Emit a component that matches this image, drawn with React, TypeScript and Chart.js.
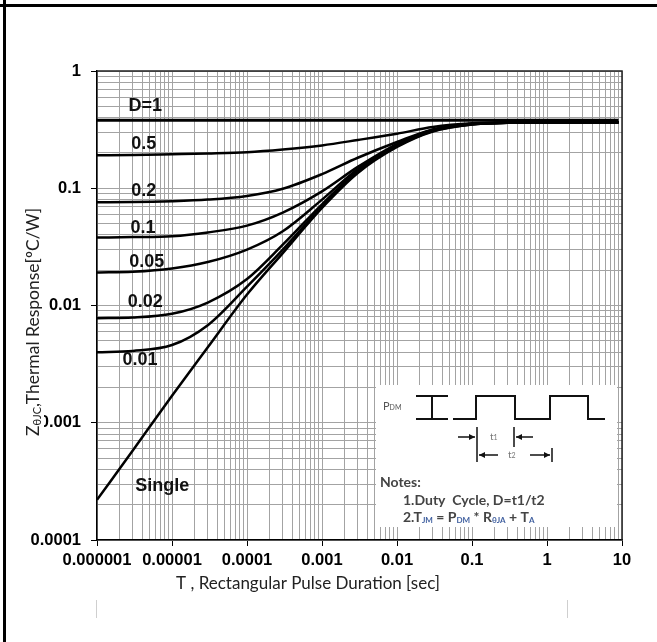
import React, { useEffect, useRef } from 'react';
import { Chart, registerables } from 'chart.js';
Chart.register(...registerables);

// ---- data ----
const pulseTimes = [1e-6, 3e-6, 1e-5, 3e-5, 1e-4, 3e-4, 1e-3, 3e-3, 1e-2, 3e-2, 1e-1, 3e-1, 1, 9];
const seriesNames = ['D=1', '0.5', '0.2', '0.1', '0.05', '0.02', '0.01', 'Single'];
const zD1 = [0.38, 0.38, 0.38, 0.38, 0.38, 0.38, 0.38, 0.38, 0.38, 0.38, 0.38, 0.38, 0.38, 0.38];
const zD05 = [0.191, 0.192, 0.195, 0.198, 0.203, 0.214, 0.232, 0.258, 0.292, 0.333, 0.358, 0.364, 0.366, 0.366];
const zD02 = [0.076, 0.0762, 0.0775, 0.080, 0.086, 0.099, 0.132, 0.182, 0.248, 0.318, 0.355, 0.363, 0.365, 0.365];
const zD01 = [0.038, 0.0383, 0.039, 0.042, 0.048, 0.062, 0.094, 0.152, 0.238, 0.315, 0.354, 0.363, 0.365, 0.365];
const zD005 = [0.0191, 0.0194, 0.0207, 0.0235, 0.030, 0.043, 0.080, 0.146, 0.235, 0.313, 0.353, 0.362, 0.365, 0.365];
const zD002 = [0.0078, 0.0079, 0.0085, 0.0106, 0.0168, 0.033, 0.073, 0.141, 0.232, 0.311, 0.352, 0.362, 0.365, 0.365];
const zD001 = [0.0040, 0.0041, 0.0046, 0.0068, 0.0145, 0.030, 0.070, 0.138, 0.228, 0.308, 0.351, 0.362, 0.365, 0.365];
const zSingle = [0.00022, 0.00058, 0.0017, 0.0044, 0.0124, 0.028, 0.068, 0.135, 0.225, 0.305, 0.35, 0.362, 0.365, 0.365];
const allSeries = [zD1, zD05, zD02, zD01, zD005, zD002, zD001, zSingle];
// label anchors in data space (t, Z)
const labelT = [4.4e-6, 4.2e-6, 4.2e-6, 4.1e-6, 4.6e-6, 4.4e-6, 3.75e-6, 7.4e-6];
const labelZ = [0.50, 0.238, 0.094, 0.0455, 0.0233, 0.0108, 0.00345, 0.00029];

const xDecades = [1e-6, 1e-5, 1e-4, 1e-3, 1e-2, 1e-1, 1, 10];
const xTickLabels = ['0.000001', '0.00001', '0.0001', '0.001', '0.01', '0.1', '1', '10'];
const yDecades = [1e-4, 1e-3, 1e-2, 1e-1, 1];
const yTickLabels = ['0.0001', '0.001', '0.01', '0.1', '1'];

const xTitle = 'T , Rectangular Pulse Duration [sec]';

function gridTicks(decades: number[]) {
  const out: any[] = [];
  decades.forEach((d, i) => {
    out.push({ value: d, major: true });
    if (i < decades.length - 1) {
      for (let k = 2; k <= 9; k++) out.push({ value: d * k, major: false });
    }
  });
  return out;
}

type Seg = { t: string; f: string; c?: string; dy?: number };
function segWidth(ctx: CanvasRenderingContext2D, segs: Seg[]) {
  let w = 0;
  segs.forEach((s) => { ctx.font = s.f; w += ctx.measureText(s.t).width; });
  return w;
}
function drawSegs(ctx: CanvasRenderingContext2D, segs: Seg[], x: number, y: number, color: string) {
  let cx = x;
  ctx.textBaseline = 'middle';
  ctx.textAlign = 'left';
  segs.forEach((s) => {
    ctx.font = s.f;
    ctx.fillStyle = s.c || color;
    ctx.fillText(s.t, cx, y + (s.dy || 0));
    cx += ctx.measureText(s.t).width;
  });
}
function arrow(ctx: CanvasRenderingContext2D, x1: number, x2: number, y: number) {
  ctx.beginPath();
  ctx.moveTo(x1, y);
  ctx.lineTo(x2, y);
  ctx.stroke();
  const dir = x2 > x1 ? 1 : -1;
  ctx.beginPath();
  ctx.moveTo(x2, y);
  ctx.lineTo(x2 - dir * 6, y - 3);
  ctx.lineTo(x2 - dir * 6, y + 3);
  ctx.closePath();
  ctx.fill();
}

const decorPlugin = {
  id: 'decor',
  afterDraw(chart: any) {
    const ctx: CanvasRenderingContext2D = chart.ctx;
    const xs = chart.scales.x;
    const ys = chart.scales.y;
    const a = chart.chartArea;
    ctx.save();
    // plot frame top/right
    ctx.strokeStyle = '#222';
    ctx.lineWidth = 1.5;
    ctx.beginPath();
    ctx.moveTo(a.left, a.top);
    ctx.lineTo(a.right, a.top);
    ctx.lineTo(a.right, a.bottom);
    ctx.stroke();

    // curve labels
    ctx.fillStyle = '#111';
    ctx.font = 'bold 18px "Liberation Sans", Arial, sans-serif';
    ctx.textAlign = 'center';
    ctx.textBaseline = 'middle';
    seriesNames.forEach((n, i) => {
      ctx.fillText(n, xs.getPixelForValue(labelT[i]), ys.getPixelForValue(labelZ[i]));
    });

    // inset box
    ctx.fillStyle = '#fff';
    ctx.fillRect(376, 385, 241, 142);
    ctx.strokeStyle = '#111';
    ctx.fillStyle = '#111';
    ctx.lineWidth = 2;
    ctx.beginPath();
    ctx.moveTo(432, 396); ctx.lineTo(432, 419);
    ctx.moveTo(416, 396); ctx.lineTo(448, 396);
    ctx.moveTo(416, 419); ctx.lineTo(448, 419);
    ctx.stroke();
    ctx.beginPath();
    ctx.moveTo(453, 419); ctx.lineTo(476, 419); ctx.lineTo(476, 396); ctx.lineTo(515, 396);
    ctx.lineTo(515, 419); ctx.lineTo(550, 419); ctx.lineTo(550, 396); ctx.lineTo(588, 396);
    ctx.lineTo(588, 419); ctx.lineTo(605, 419);
    ctx.stroke();
    ctx.lineWidth = 1.5;
    ctx.beginPath();
    ctx.moveTo(477, 427); ctx.lineTo(477, 462);
    ctx.moveTo(514, 427); ctx.lineTo(514, 447);
    ctx.moveTo(552, 448); ctx.lineTo(552, 462);
    ctx.stroke();
    arrow(ctx, 458, 475, 437);
    arrow(ctx, 533, 516, 437);
    arrow(ctx, 498, 479, 455);
    arrow(ctx, 530, 550, 455);
    drawSegs(ctx, [{ t: 't', f: '10px Lato' }, { t: '1', f: '7px Lato', dy: 1 }], 490, 437, '#777');
    drawSegs(ctx, [{ t: 't', f: '10px Lato' }, { t: '2', f: '7px Lato', dy: 1 }], 508, 455, '#777');
    drawSegs(ctx, [{ t: 'P', f: '11px Lato' }, { t: 'DM', f: '7px Lato', dy: 2 }], 383, 406, '#555');
    const nf = 'bold 14px Lato, sans-serif';
    const sf = 'bold 8px Lato, sans-serif';
    const blue = '#3f5f9f';
    drawSegs(ctx, [{ t: 'Notes:', f: nf }], 380, 482, '#444');
    drawSegs(ctx, [{ t: '1.Duty  Cycle, D=t1/t2', f: nf }], 403, 500, '#444');
    drawSegs(ctx, [
      { t: '2.T', f: nf }, { t: 'JM', f: sf, c: blue, dy: 3 }, { t: ' = P', f: nf },
      { t: 'DM', f: sf, c: blue, dy: 3 }, { t: ' * R', f: nf }, { t: '\u03b8JA', f: sf, c: blue, dy: 3 },
      { t: ' + T', f: nf }, { t: 'A', f: sf, c: blue, dy: 3 },
    ], 403, 517, '#444');

    // y title with white backing
    const tf = '17.5px Lato, sans-serif';
    const ysegs: Seg[] = [
      { t: 'Z', f: tf }, { t: '\u03b8JC', f: '11px Lato, sans-serif', dy: 4 },
      { t: ',Thermal Response[\u00baC/W]', f: tf },
    ];
    const w = segWidth(ctx, ysegs);
    ctx.translate(33, 322);
    ctx.rotate(-Math.PI / 2);
    ctx.fillStyle = '#fff';
    ctx.fillRect(-w / 2 - 4, -11, w + 8, 22);
    drawSegs(ctx, ysegs, -w / 2, 0, '#222');
    ctx.setTransform(1, 0, 0, 1, 0, 0);

    // x title
    ctx.font = '17px Lato, sans-serif';
    ctx.fillStyle = '#222';
    ctx.textAlign = 'center';
    ctx.textBaseline = 'middle';
    ctx.fillText(xTitle, 308, 584);

    // outer frame
    ctx.fillStyle = '#000';
    ctx.fillRect(3, 0, 3, 642);
    ctx.fillRect(0, 4, 657, 3);
    ctx.fillStyle = '#cfcfcf';
    ctx.fillRect(96, 600, 1, 18);
    ctx.fillRect(567, 600, 1, 18);
    ctx.restore();
  },
};

export default function App() {
  const ref = useRef<HTMLCanvasElement | null>(null);
  useEffect(() => {
    if (!ref.current) return;
    const gridColor = '#a3a3a3';
    const tickFont = { family: '"Liberation Sans", Arial, sans-serif', size: 16.5, weight: 'bold' as const };
    const chart = new Chart(ref.current, {
      type: 'scatter',
      data: {
        datasets: allSeries.map((s, i) => ({
          label: seriesNames[i],
          data: pulseTimes.map((t, j) => ({ x: t, y: s[j] })),
          showLine: true,
          borderColor: '#000',
          backgroundColor: '#000',
          borderWidth: i === 0 ? 3 : 2.5,
          pointRadius: 0,
          cubicInterpolationMode: 'monotone' as const,
        })),
      },
      options: {
        animation: false,
        responsive: false,
        devicePixelRatio: 1,
        layout: { padding: { left: 0, top: 71, right: 35, bottom: 0 } },
        plugins: { legend: { display: false }, tooltip: { enabled: false } },
        scales: {
          x: {
            type: 'logarithmic',
            min: 1e-6,
            max: 10,
            afterBuildTicks: (scale: any) => { scale.ticks = gridTicks(xDecades); },
            afterFit: (scale: any) => { scale.height = 102; },
            border: { color: '#000', width: 1.5 },
            grid: {
              color: gridColor,
              lineWidth: 1,
              tickLength: 6,
              tickColor: (c: any) => (c.tick && c.tick.major ? '#000' : 'rgba(0,0,0,0)'),
            },
            ticks: {
              autoSkip: false,
              maxRotation: 0,
              padding: 5,
              color: '#000',
              font: tickFont,
              callback: (v: any) => { const i = xDecades.indexOf(v); return i >= 0 ? xTickLabels[i] : ''; },
            },
          },
          y: {
            type: 'logarithmic',
            min: 1e-4,
            max: 1,
            afterBuildTicks: (scale: any) => { scale.ticks = gridTicks(yDecades); },
            afterFit: (scale: any) => { scale.width = 97; },
            border: { color: '#000', width: 1.5 },
            grid: {
              color: gridColor,
              lineWidth: 1,
              tickLength: 6,
              tickColor: (c: any) => (c.tick && c.tick.major ? '#000' : 'rgba(0,0,0,0)'),
            },
            ticks: {
              autoSkip: false,
              padding: 10,
              color: '#000',
              font: tickFont,
              callback: (v: any) => { const i = yDecades.indexOf(v); return i >= 0 ? yTickLabels[i] : ''; },
            },
          },
        },
      },
      plugins: [decorPlugin],
    });
    return () => chart.destroy();
  }, []);
  return (
    <div style={{ position: 'absolute', left: 0, top: 0, width: 657, height: 642, background: '#fff' }}>
      <canvas ref={ref} width={657} height={642} style={{ width: 657, height: 642, display: 'block' }} />
    </div>
  );
}
